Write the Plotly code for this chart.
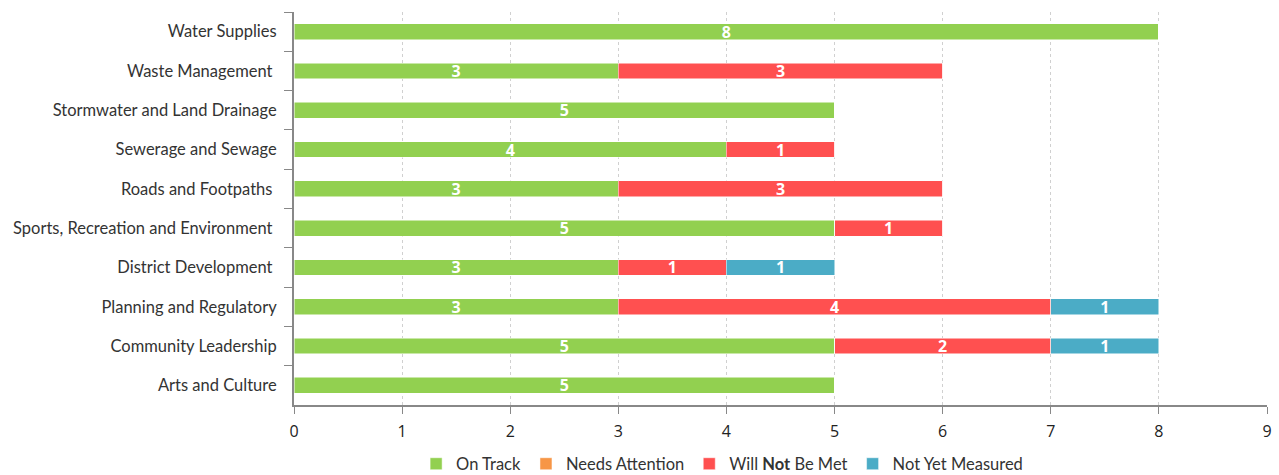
import plotly.graph_objects as go

categories = [
    "Water Supplies",
    "Waste Management\u00a0",
    "Stormwater and Land Drainage",
    "Sewerage and Sewage",
    "Roads and Footpaths\u00a0",
    "Sports, Recreation and Environment\u00a0",
    "District Development\u00a0",
    "Planning and Regulatory",
    "Community Leadership",
    "Arts and Culture",
]

on_track = [8, 3, 5, 4, 3, 5, 3, 3, 5, 5]
needs_attention = [0, 0, 0, 0, 0, 0, 0, 0, 0, 0]
will_not_be_met = [0, 3, 0, 1, 3, 1, 1, 4, 2, 0]
not_yet_measured = [0, 0, 0, 0, 0, 0, 1, 1, 1, 0]

series = [
    ("On Track", on_track, "#92D050"),
    ("Needs Attention", needs_attention, "#F79646"),
    ("Will <b>Not</b> Be Met", will_not_be_met, "#FF5050"),
    ("Not Yet Measured", not_yet_measured, "#4BACC6"),
]

fig = go.Figure()
for name, vals, color in series:
    fig.add_trace(go.Bar(
        y=categories,
        x=vals,
        name=name,
        orientation="h",
        marker=dict(color=color, line=dict(color="white", width=0.5)),
        text=[str(v) if v else "" for v in vals],
        textposition="inside",
        insidetextanchor="middle",
        textangle=0,
        textfont=dict(family="Open Sans", size=16, color="white", weight="bold"),
        hoverinfo="x+y+name",
    ))

fig.update_layout(
    barmode="stack",
    bargap=0.6,
    width=1279,
    height=475,
    margin=dict(l=294, r=12, t=12, b=70, autoexpand=False),
    plot_bgcolor="white",
    paper_bgcolor="white",
    font=dict(family="Lato", size=16, color="#333333"),
    uniformtext=dict(mode="show", minsize=10),
    legend=dict(
        orientation="h",
        x=0.44,
        xanchor="center",
        yref="container",
        y=0.06,
        yanchor="top",
        font=dict(family="Lato", size=16.5, color="#333333"),
        itemwidth=30,
        traceorder="normal",
    ),
)

fig.update_xaxes(
    range=[0, 9],
    dtick=1,
    tick0=0,
    showgrid=True,
    gridcolor="#d0d0d0",
    griddash="dot",
    gridwidth=1,
    zeroline=False,
    showline=True,
    linecolor="#888888",
    linewidth=2,
    ticks="outside",
    ticklen=7,
    tickcolor="#888888",
    tickwidth=1,
    tickfont=dict(family="Open Sans", size=16, color="#222222"),
    ticklabelstandoff=4,
)

fig.update_yaxes(
    autorange="reversed",
    type="category",
    tickson="boundaries",
    ticks="outside",
    ticklen=8,
    tickcolor="#888888",
    tickwidth=1,
    showline=True,
    linecolor="#888888",
    linewidth=2,
    showgrid=False,
    tickfont=dict(family="Lato", size=16.5, color="#333333"),
    ticklabelstandoff=12,
)

fig.write_html("out.html")
